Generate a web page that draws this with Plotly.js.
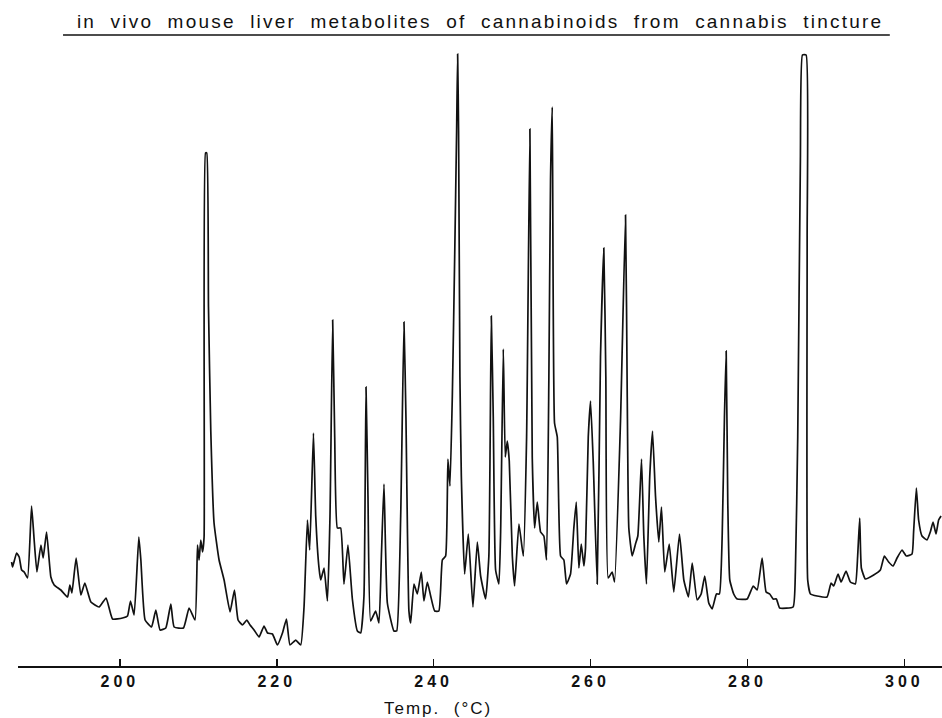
<!DOCTYPE html>
<html>
<head>
<meta charset="utf-8">
<script src="https://cdn.plot.ly/plotly-3.0.1.min.js"></script>
<style>html,body{margin:0;padding:0;background:#fff;}#chart{width:942px;height:718px;}</style>
</head>
<body>
<div id="chart"></div>
<script>
// Column temperature (°C) and detector response (arbitrary units)
const temperature = [186.20,186.33,186.84,187.17,187.48,187.81,188.24,188.75,189.08,189.43,189.94,190.23,190.66,191.21,191.63,192.48,193.34,193.63,193.89,194.43,195.03,195.54,196.31,197.36,198.25,199.07,200.34,200.98,201.36,201.82,202.42,202.68,203.22,204.04,204.59,205.13,205.86,206.50,206.92,208.11,208.83,209.59,209.90,210.10,210.32,210.54,210.74,210.92,211.08,211.30,211.59,212.01,212.65,213.29,214.05,214.61,215.07,215.63,216.18,216.60,217.11,217.75,218.38,218.82,219.45,220.09,220.73,221.24,221.69,222.42,223.06,223.48,223.91,224.20,224.68,224.97,225.39,225.61,226.03,226.46,226.79,227.13,227.39,227.73,228.15,228.57,229.08,229.64,230.28,230.70,231.12,231.38,231.63,231.97,232.61,233.03,233.34,233.67,234.10,234.94,235.29,235.80,236.22,236.47,236.85,237.07,237.49,237.92,238.43,238.76,239.20,239.62,240.13,240.67,241.11,241.53,241.82,242.08,242.38,242.68,242.93,243.06,243.18,243.35,243.53,243.95,244.42,245.01,245.57,245.99,246.62,247.04,247.35,247.60,247.90,248.32,248.54,248.88,249.13,249.39,249.64,250.03,250.32,250.87,251.43,251.85,252.27,252.57,252.87,253.21,253.63,254.05,254.39,254.69,254.90,255.12,255.41,255.76,256.18,256.60,256.94,257.45,257.87,258.18,258.51,258.82,259.15,259.36,259.71,260.00,260.34,260.85,261.27,261.69,261.95,262.25,262.76,263.06,263.82,264.46,264.68,264.88,265.31,265.73,266.03,266.50,266.79,267.13,267.55,267.90,268.28,268.70,269.04,269.46,270.03,270.61,271.34,271.89,272.48,272.96,273.59,274.10,274.56,275.07,275.50,276.05,276.43,276.78,277.07,277.29,277.49,277.75,278.25,278.69,279.96,280.73,281.24,281.87,282.38,282.84,283.27,283.69,284.11,285.82,286.11,286.41,286.75,287.01,287.48,287.61,287.68,288.03,288.88,290.15,290.66,291.00,291.55,291.94,292.57,293.12,293.76,294.05,294.31,294.52,295.03,296.09,296.94,297.45,298.00,298.56,299.07,299.71,300.25,300.98,301.18,301.53,301.82,302.25,302.89,303.31,303.66,304.04,304.37,304.68];
const response = [105,100,114,110,97,95,89,161,127,95,122,109,135,90,82,77,70,82,74,109,72,84,65,60,69,48,49,51,66,52,130,107,47,40,57,37,39,63,40,39,59,47,122,107,127,115,130,514,514,360,237,144,107,87,55,77,47,42,47,42,37,30,41,34,33,22,34,48,22,27,22,60,147,117,234,151,99,87,99,66,151,347,230,139,139,83,122,68,36,34,71,280,171,46,56,44,111,183,64,36,36,151,345,250,56,44,83,73,95,66,85,71,56,56,107,111,208,181,270,409,536,613,536,290,191,93,133,60,125,91,68,111,351,250,97,83,135,318,210,226,206,111,81,143,111,230,538,210,139,165,135,131,107,290,488,560,244,230,111,107,83,93,139,165,99,123,101,119,230,266,206,83,310,419,290,89,95,85,246,452,270,139,111,123,131,208,131,83,191,236,171,125,160,95,123,75,133,87,70,104,67,73,91,64,58,73,73,131,250,316,167,87,73,68,68,81,77,109,75,73,68,68,59,60,95,230,508,612,612,429,87,73,71,70,84,81,93,85,96,85,83,111,149,99,88,92,97,111,105,101,109,117,111,113,135,179,147,131,127,135,145,133,147,151];
const tickValues = [200, 220, 240, 260, 280, 300];
const tickLabels = ['200', '220', '240', '260', '280', '300'];
const chartTitle = 'in vivo mouse liver metabolites of cannabinoids from cannabis tincture';
const axisTitle = 'Temp.  (°C)';

const FONT = '"Liberation Sans", Arial, Helvetica, sans-serif';

const trace = {
  x: temperature,
  y: response,
  type: 'scatter',
  mode: 'lines',
  line: {color: '#111111', width: 1.7, shape: 'spline', smoothing: 0.4},
  hoverinfo: 'x+y'
};

const layout = {
  width: 942,
  height: 718,
  margin: {l: 10, r: 0, t: 50, b: 51, pad: 0},
  paper_bgcolor: '#ffffff',
  plot_bgcolor: '#ffffff',
  showlegend: false,
  font: {family: FONT, color: '#111111'},
  title: {
    text: '<span style="letter-spacing:2.2px;word-spacing:7px">' + chartTitle + '</span>',
    font: {family: FONT, size: 19, color: '#111111'},
    xref: 'container', x: 0.5096, xanchor: 'center',
    yref: 'container', y: 0.9708, yanchor: 'middle'
  },
  xaxis: {
    range: [186.0, 304.8],
    tickmode: 'array',
    tickvals: tickValues,
    ticktext: tickLabels.map(t => '<span style="letter-spacing:4px">' + t + '</span>'),
    ticks: 'inside',
    ticklen: 8,
    tickwidth: 1.6,
    tickcolor: '#111111',
    tickfont: {family: FONT, size: 16, weight: 'bold', color: '#111111'},
    ticklabelstandoff: 3,
    showline: false,
    showgrid: false,
    zeroline: false,
    fixedrange: true
  },
  yaxis: {
    range: [0, 617],
    visible: false,
    showgrid: false,
    zeroline: false,
    fixedrange: true
  },
  shapes: [
    {type: 'line', xref: 'paper', yref: 'paper', x0: 0.0086, x1: 1, y0: 0, y1: 0,
     line: {color: '#111111', width: 2}},
    {type: 'line', xref: 'paper', yref: 'paper', x0: 0.0569, x1: 0.944, y0: 1.0243, y1: 1.0243,
     line: {color: '#111111', width: 1.6}}
  ],
  annotations: [
    {text: '<span style="letter-spacing:2px">' + axisTitle + '</span>',
     xref: 'x', x: 240.6, xanchor: 'center',
     yref: 'paper', y: -0.068, yanchor: 'middle',
     showarrow: false,
     font: {family: FONT, size: 17, color: '#111111'}}
  ]
};

Plotly.newPlot('chart', [trace], layout, {displayModeBar: false, staticPlot: true});
</script>
</body>
</html>
